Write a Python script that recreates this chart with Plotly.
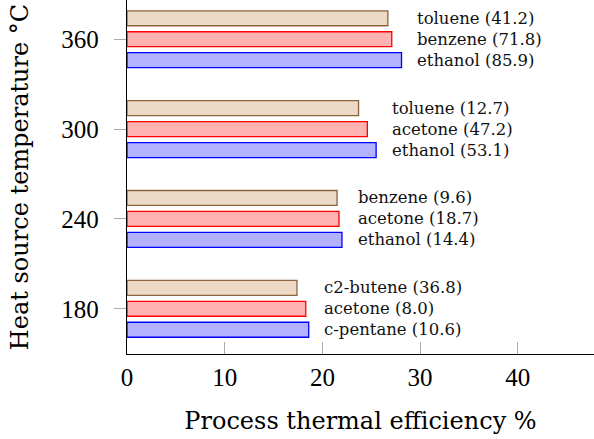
import plotly.graph_objects as go

temps = [180, 240, 300, 360]
# series: bottom (blue), middle (red), top (tan)
blue_vals = [18.6, 22.0, 25.5, 28.1]
red_vals = [18.3, 21.7, 24.6, 27.1]
tan_vals = [17.4, 21.5, 23.7, 26.7]

blue_names = ["c-pentane (10.6)", "ethanol (14.4)", "ethanol (53.1)", "ethanol (85.9)"]
red_names = ["acetone (8.0)", "acetone (18.7)", "acetone (47.2)", "benzene (71.8)"]
tan_names = ["c2-butene (36.8)", "benzene (9.6)", "toluene (12.7)", "toluene (41.2)"]

x_ticks = [0, 10, 20, 30, 40]

series = [
    (blue_vals, blue_names, "rgb(178,178,255)", "rgb(0,0,255)"),
    (red_vals, red_names, "rgb(255,178,178)", "rgb(255,0,0)"),
    (tan_vals, tan_names, "rgb(236,217,198)", "rgb(140,100,60)"),
]

fig = go.Figure()
for vals, names, fill, edge in series:
    fig.add_trace(go.Bar(
        x=vals, y=temps, orientation="h",
        marker=dict(color=fill, line=dict(color=edge, width=1.3)),
        showlegend=False,
    ))

slot = 60
bargap = 0.3
pitch = slot * (1 - bargap) / 3
annotations = []
for g, t in enumerate(temps):
    gmax = max(blue_vals[g], red_vals[g], tan_vals[g])
    for i, (vals, names, fill, edge) in enumerate(series):
        annotations.append(dict(
            x=gmax + 1.4, y=t + (i - 1) * pitch, xref="x", yref="y",
            text=names[g], showarrow=False, xanchor="left", yanchor="middle",
            font=dict(family="DejaVu Serif", size=16.5, color="#111"),
        ))

fig.update_layout(
    width=594, height=439,
    margin=dict(l=127, r=0, t=0, b=85),
    paper_bgcolor="white", plot_bgcolor="white",
    barmode="group", bargap=bargap, bargroupgap=0.286,
    annotations=annotations,
    xaxis=dict(
        range=[0, 47.8], tickvals=x_ticks, ticks="inside", ticklen=12,
        tickcolor="rgb(170,170,170)", tickwidth=1,
        showgrid=False, zeroline=False, showline=True, linecolor="black", linewidth=1.3,
        tickfont=dict(family="Liberation Serif", size=25, color="black"),
        ticklabelstandoff=1,
        title=dict(text="Process thermal efficiency %", standoff=22,
                   font=dict(family="DejaVu Serif", size=24, color="black")),
    ),
    yaxis=dict(
        range=[149.8, 386.2], tickvals=temps, ticks="outside", ticklen=12,
        tickcolor="rgb(170,170,170)", tickwidth=1,
        showgrid=False, zeroline=False, showline=True, linecolor="black", linewidth=1.3,
        tickfont=dict(family="Liberation Serif", size=25, color="black"),
        ticklabelstandoff=10,
        title=dict(text="Heat source temperature °C", standoff=25,
                   font=dict(family="DejaVu Serif", size=24, color="black")),
    ),
)

fig.write_html("out.html")
